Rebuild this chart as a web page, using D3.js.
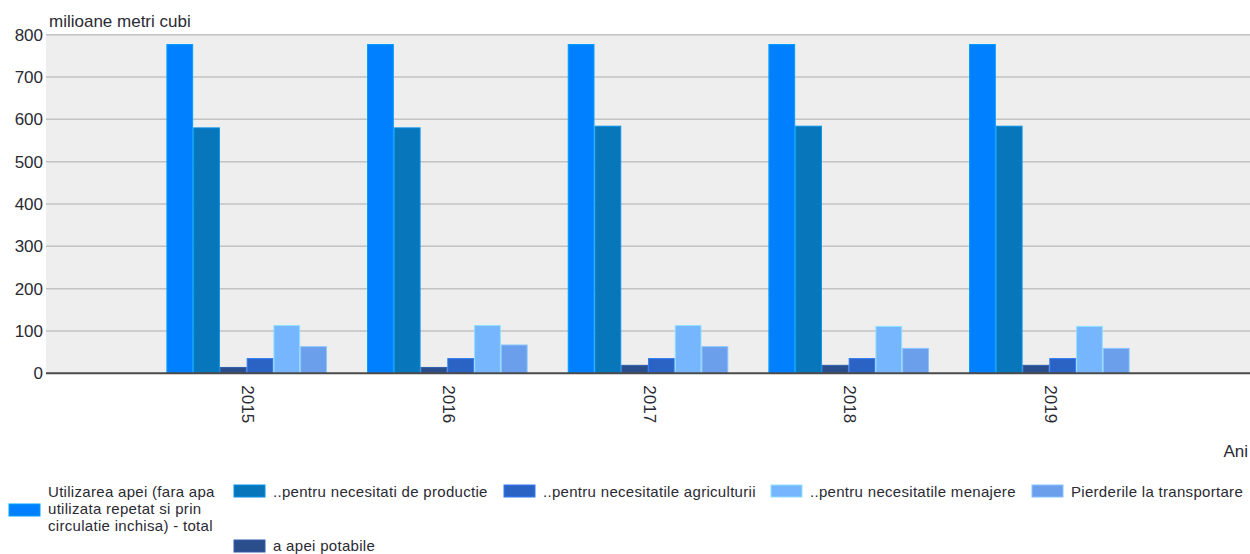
<!DOCTYPE html>
<html>
<head>
<meta charset="utf-8">
<script src="https://cdn.jsdelivr.net/npm/d3@7"></script>
<style>
  html, body { margin: 0; padding: 0; background: #ffffff; }
  svg { display: block; font-family: "Liberation Sans", Arial, sans-serif; }
</style>
</head>
<body>
<svg id="chart" width="1250" height="554"></svg>
<script>
// ---- data ----
const years = ["2015", "2016", "2017", "2018", "2019"];
const yTicks = [0, 100, 200, 300, 400, 500, 600, 700, 800];
const seriesNames = [
  "Utilizarea apei (fara apa utilizata repetat si prin circulatie inchisa) -  total",
  "..pentru necesitati de productie",
  "..pentru necesitatile agriculturii",
  "..pentru necesitatile menajere",
  "Pierderile la transportare",
  "a apei potabile"
];
const totalValues      = [778, 778, 778, 778, 778];
const productieValues  = [581, 581, 585, 585, 585];
const agriculturaValues= [36, 36, 36, 36, 36];
const menajereValues   = [114, 114, 114, 112, 112];
const pierderiValues   = [64, 68, 64, 60, 60];
const potabileValues   = [15, 15, 20, 20, 20];
const yAxisTitle = "milioane metri cubi";
const xAxisTitle = "Ani";

// ---- styles ----
const seriesColors = ["#0080ff", "#0776bb", "#2b63c5", "#75b6ff", "#6b9eeb", "#2a4d8c"];
const seriesValues = [totalValues, productieValues, agriculturaValues, menajereValues, pierderiValues, potabileValues];
// bar order inside a group (indices into the series lists)
const barOrder = [0, 1, 5, 2, 3, 4];

const svg = d3.select("#chart");
const plotLeft = 46, plotRight = 1250, plotTop = 34.7, plotBottom = 373.3;

const x = d3.scaleBand().domain(years).range([plotLeft, plotRight]).paddingInner(0).paddingOuter(0.5);
const bw = x.bandwidth();
const xi = d3.scaleBand().domain(barOrder).range([bw * 0.1, bw * 0.9]).padding(0);
const y = d3.scaleLinear().domain([0, 800]).range([plotBottom, plotTop]);

// plot background
svg.append("rect")
  .attr("x", plotLeft).attr("y", plotTop)
  .attr("width", plotRight - plotLeft).attr("height", plotBottom - plotTop)
  .attr("fill", "#eeeeee");

// gridlines
svg.append("g").selectAll("line").data(yTicks.filter(t => t > 0)).join("line")
  .attr("x1", plotLeft).attr("x2", plotRight)
  .attr("y1", d => y(d)).attr("y2", d => y(d))
  .attr("stroke", "#c2c2c2").attr("stroke-width", 1.5);

// y axis labels via d3 axis
const yAxis = svg.append("g")
  .attr("transform", `translate(${plotLeft},0)`)
  .call(d3.axisLeft(y).tickValues(yTicks).tickSize(0).tickPadding(3));
yAxis.select(".domain").remove();
yAxis.selectAll("text")
  .attr("font-size", 17).attr("fill", "#2a2a33")
  .attr("font-family", "'Liberation Sans', Arial, sans-serif");

// bars
const groups = svg.append("g").selectAll("g").data(years).join("g")
  .attr("transform", d => `translate(${x(d)},0)`);
groups.selectAll("rect")
  .data((yr, i) => barOrder.map(s => ({ s, v: seriesValues[s][i] })))
  .join("rect")
  .attr("x", d => xi(d.s) + 0.5)
  .attr("width", xi.bandwidth() - 1)
  .attr("y", d => y(d.v) + 0.5)
  .attr("height", d => y(0) - y(d.v) - 0.5)
  .attr("fill", d => seriesColors[d.s])
  .attr("stroke", d => d3.color(seriesColors[d.s]).brighter(0.6))
  .attr("stroke-width", 1);

// baseline
svg.append("line")
  .attr("x1", plotLeft).attr("x2", plotRight)
  .attr("y1", y(0)).attr("y2", y(0))
  .attr("stroke", "#4a4a4a").attr("stroke-width", 2);

// x axis labels
const xAxis = svg.append("g")
  .attr("transform", `translate(0,${plotBottom})`)
  .call(d3.axisBottom(x).tickSize(0).tickPadding(0));
xAxis.select(".domain").remove();
xAxis.selectAll("text")
  .attr("font-size", 17).attr("fill", "#2a2a33")
  .attr("font-family", "'Liberation Sans', Arial, sans-serif")
  .attr("text-anchor", "start")
  .attr("transform", "translate(0,12) rotate(90)")
  .attr("x", 0).attr("y", 0).attr("dy", "0.25em");

// axis titles
svg.append("text").attr("x", 49).attr("y", 26.5)
  .attr("font-size", 17).attr("fill", "#2a2a33").text(yAxisTitle);
svg.append("text").attr("x", 1248).attr("y", 457).attr("text-anchor", "end")
  .attr("font-size", 17).attr("fill", "#2a2a33").text(xAxisTitle);

// legend
const legendItems = [
  { s: 0, sx: 9,   sy: 504, lines: ["Utilizarea apei (fara apa", "utilizata repetat si prin", "circulatie inchisa) -  total"], ty: 496.5 },
  { s: 1, sx: 234, sy: 485, lines: [seriesNames[1]], ty: 497 },
  { s: 2, sx: 504, sy: 485, lines: [seriesNames[2]], ty: 497 },
  { s: 3, sx: 771, sy: 485, lines: [seriesNames[3]], ty: 497 },
  { s: 4, sx: 1032, sy: 485, lines: [seriesNames[4]], ty: 497 },
  { s: 5, sx: 234, sy: 540, lines: [seriesNames[5]], ty: 550.5 }
];
const lg = svg.append("g").selectAll("g").data(legendItems).join("g");
lg.append("rect")
  .attr("x", d => d.sx).attr("y", d => d.sy)
  .attr("width", 31).attr("height", 12)
  .attr("fill", d => seriesColors[d.s])
  .attr("stroke", d => d3.color(seriesColors[d.s]).brighter(0.6)).attr("stroke-width", 1);
lg.append("text")
  .attr("x", d => d.sx + 39).attr("y", d => d.ty)
  .attr("font-size", 15).attr("letter-spacing", 0.3).attr("fill", "#2a2a33")
  .selectAll("tspan").data(d => d.lines.map((l, i) => ({ l, i, x: d.sx + 39 }))).join("tspan")
  .attr("x", t => t.x).attr("dy", t => t.i === 0 ? 0 : 17)
  .text(t => t.l);
</script>
</body>
</html>
